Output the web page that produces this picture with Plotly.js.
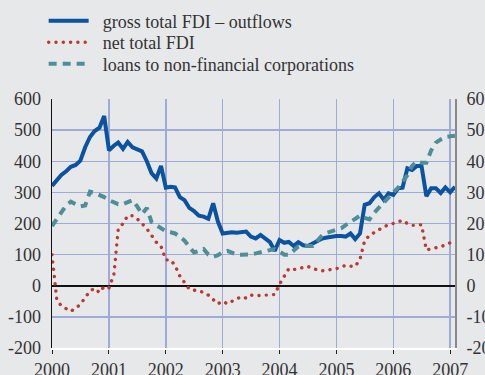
<!DOCTYPE html>
<html>
<head>
<meta charset="utf-8">
<script src="https://cdn.plot.ly/plotly-3.0.1.min.js"></script>
<style>html,body{margin:0;padding:0;background:#e7e8ea;}#chart{width:485px;height:375px;}</style>
</head>
<body>
<div id="chart"></div>
<script>
// monthly observations, Jan 2000 - Feb 2007
const startYear = 2000;
const grossOutflows = [
  321, 340, 356, 368, 382, 388, 402, 445, 478, 497, 508, 545,
  435, 450, 460, 440, 462, 445, 440, 432, 400, 362, 345, 385,
  315, 318, 316, 285, 275, 250, 240, 225, 222, 215, 265, 207,
  168, 170, 172, 170, 172, 174, 158, 152, 163, 150, 140, 112,
  147, 138, 141, 128, 140, 130, 128, 136, 145, 152, 155, 158,
  160, 160, 158, 168, 150, 168, 260, 265, 285, 297, 276, 297,
  292, 313, 315, 377, 372, 385, 385, 288, 313, 313, 298, 316,
  300, 318
];
const netTotal = [
  100, -45, -65, -73, -82, -72, -60, -38, -17, -8, -22, -2,
  -6, 35, 180, 200, 225, 225, 215, 200, 183, 162, 140, 127,
  83, 83, 65, 31, 10, -11, -14, -17, -21, -30, -45, -58,
  -50, -58, -50, -42, -35, -40, -30, -32, -30, -30, -30, -28,
  5, 30, 55, 52, 55, 58, 62, 55, 50, 48, 50, 52,
  55, 60, 66, 63, 62, 85, 145, 162, 170, 180, 190, 195,
  202, 208, 210, 200, 194, 194, 196, 115, 120, 122, 125, 132,
  138, 150
];
const loansNFC = [
  19.2, 21.5, 24.0, 25.8, 27.0, 26.2, 25.5, 25.8, 30.2, 29.8, 29.2, 28.5,
  27.5, 26.8, 26.2, 26.2, 27.0, 27.5, 25.5, 23.0, 25.0, 20.5, 19.5, 18.5,
  17.5, 17.2, 16.8, 15.8, 14.5, 12.5, 10.7, 11.2, 11.8, 10.0, 9.3, 9.8,
  10.8, 11.2, 10.5, 10.0, 10.0, 10.0, 10.1, 10.4, 10.8, 11.0, 11.5, 11.8,
  11.0, 10.0, 10.0, 11.2, 12.6, 12.8, 12.7, 12.8, 14.5, 16.2, 17.0, 17.5,
  18.0, 18.5, 19.5, 20.5, 21.5, 22.5, 21.8, 21.3, 23.5, 25.2, 27.0, 28.5,
  30.0, 31.5, 33.2, 35.5, 38.5, 40.0, 39.5, 39.5, 43.5, 46.0, 47.0, 47.8,
  48.0, 48.2
];
const leftTicks = [-200, -100, 0, 100, 200, 300, 400, 500, 600];
const leftTickText = ['-200', '-100', '0', '100', '200', '300', '400', '500', '600'];
const rightTicks = [-20, -10, 0, 10, 20, 30, 40, 50, 60];
const rightTickText = ['-20', '-10', '0', '10', '20', '30', '40', '50', '60'];
const yearTicks = ['2000-01-01','2001-01-01','2002-01-01','2003-01-01','2004-01-01','2005-01-01','2006-01-01','2007-01-01'];
const yearLabels = ['2000','2001','2002','2003','2004','2005','2006','2007'];
const seriesNames = ['gross total FDI \u2013 outflows', 'net total FDI', 'loans to non-financial corporations'];

const months = grossOutflows.map((_, i) => {
  const y = startYear + Math.floor(i / 12);
  const m = (i % 12) + 1;
  return y + '-' + (m < 10 ? '0' + m : m) + '-01';
});

const bg = '#e7e8ea';
const gridCol = '#9eabd9';
const txt = '#333333';
const serif = 'Liberation Serif, Times New Roman, serif';
const pad = '\u00a0\u00a0';
const redDash = '0.1px,7.2px';

const traces = [
  {x: months, y: grossOutflows, name: pad + seriesNames[0], type: 'scatter', mode: 'lines',
   line: {color: '#0b52a0', width: 4}, yaxis: 'y', legend: 'legend'},
  {x: months, y: netTotal, name: pad + seriesNames[1], type: 'scatter', mode: 'lines',
   line: {color: '#b83a32', width: 3.4, dash: redDash}, yaxis: 'y', legend: 'legend2'},
  {x: months, y: loansNFC, name: pad + seriesNames[2], type: 'scatter', mode: 'lines',
   line: {color: '#4d8e98', width: 4, dash: '8px,6px'}, yaxis: 'y2', legend: 'legend3'}
];

function leg(yPix) {
  return {xref: 'container', yref: 'container', x: 0.09, y: 1 - yPix / 375,
          xanchor: 'left', yanchor: 'middle', bgcolor: 'rgba(0,0,0,0)',
          font: {family: serif, size: 18, color: txt}, itemwidth: 40};
}

const layout = {
  width: 485, height: 375,
  paper_bgcolor: bg, plot_bgcolor: bg,
  margin: {l: 52, r: 30, t: 99, b: 27, pad: 0, autoexpand: false},
  font: {family: serif, size: 18, color: txt},
  showlegend: true,
  legend: leg(21), legend2: leg(42.5), legend3: leg(64),
  xaxis: {type: 'date', range: ['2000-01-01', '2007-02-01'], automargin: false,
          tickvals: yearTicks, ticktext: yearLabels, tickangle: 0,
          showgrid: true, gridcolor: gridCol, gridwidth: 1.5,
          ticks: 'outside', ticklen: 4, tickcolor: '#222', tickwidth: 1,
          showline: true, linecolor: '#ffffff', linewidth: 2,
          tickfont: {family: serif, size: 18, color: txt}, zeroline: false, fixedrange: true},
  yaxis: {range: [-200, 600], tickvals: leftTicks, ticktext: leftTickText, automargin: false,
          showgrid: true, gridcolor: gridCol, gridwidth: 1.5,
          zeroline: true, zerolinecolor: '#111', zerolinewidth: 1.5,
          showline: true, linecolor: '#111', linewidth: 1.5,
          ticks: '', ticklabelstandoff: 6,
          tickfont: {family: serif, size: 18, color: txt}, fixedrange: true},
  yaxis2: {range: [-20, 60], tickvals: rightTicks, ticktext: rightTickText, automargin: false,
           overlaying: 'y', side: 'right', showgrid: false, zeroline: false,
           showline: true, linecolor: '#8a8a8a', linewidth: 2,
           ticks: '', ticklabelstandoff: 6,
           tickfont: {family: serif, size: 18, color: txt}, fixedrange: true}
};

Plotly.newPlot('chart', traces, layout, {displayModeBar: false, staticPlot: true}).then(gd => {
  // round caps so the dotted series shows round dots
  gd.querySelectorAll('path.js-line').forEach(p => {
    if ((p.style.strokeDasharray || '').indexOf('0.1') === 0) p.style.strokeLinecap = 'round';
  });
});
</script>
</body>
</html>
